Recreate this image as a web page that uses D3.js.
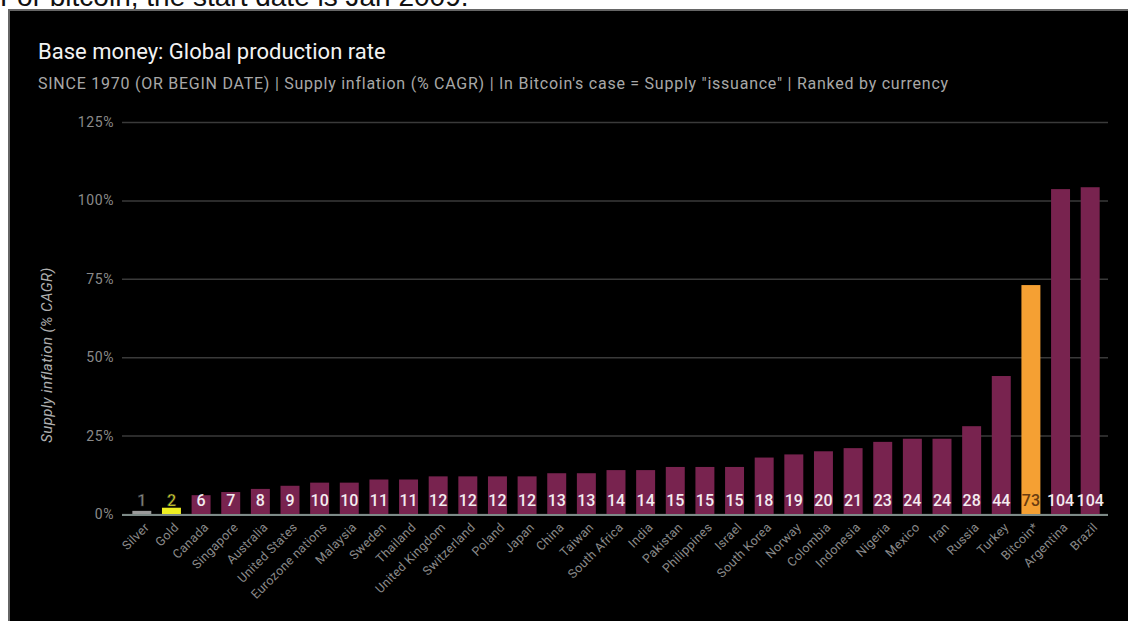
<!DOCTYPE html>
<html><head><meta charset="utf-8">
<script src="https://cdn.jsdelivr.net/npm/d3@7"></script>
<style>html,body{margin:0;padding:0;background:#fff;}svg{display:block;}</style>
</head><body>
<svg id="c" width="1128" height="621"></svg>
<script>
const categories = ["Silver","Gold","Canada","Singapore","Australia","United States","Eurozone nations","Malaysia","Sweden","Thailand","United Kingdom","Switzerland","Poland","Japan","China","Taiwan","South Africa","India","Pakistan","Philippines","Israel","South Korea","Norway","Colombia","Indonesia","Nigeria","Mexico","Iran","Russia","Turkey","Bitcoin*","Argentina","Brazil"];
const values = [1,2,6,7,8,9,10,10,11,11,12,12,12,12,13,13,14,14,15,15,15,18,19,20,21,23,24,24,28,44,73,103.6,104.2];
const yTicks = [0,25,50,75,100,125];
const specialFill = {"Silver":"#9a9a9a","Gold":"#eeee22","Bitcoin*":"#f5a033"};
const labelFill = {"Silver":"#8a8a8a","Gold":"#e8e820","Bitcoin*":"#6a3c10"};

const svg = d3.select("#c");
// caption strip text (cut off)
svg.append("text").attr("x",0).attr("y",6).attr("font-family","Liberation Sans, Arial, sans-serif")
  .attr("font-size",28).attr("fill","#111").text("For bitcoin, the start date is Jan 2009.");
svg.append("rect").attr("x",9).attr("y",10).attr("width",1125).attr("height",620)
  .attr("fill","#000").attr("stroke","#666").attr("stroke-width",2);

svg.append("text").attr("x",38).attr("y",59).attr("font-family","Roboto, sans-serif")
  .attr("font-size",22).attr("fill","#f2f2f2").text("Base money: Global production rate");
svg.append("text").attr("x",38).attr("y",89).attr("font-family","Roboto, sans-serif")
  .attr("font-size",16).attr("fill","#a8a8a8").attr("letter-spacing","0.75")
  .text("SINCE 1970 (OR BEGIN DATE) | Supply inflation (% CAGR) | In Bitcoin's case = Supply \"issuance\" | Ranked by currency");

const x = d3.scaleBand().domain(categories).range([127,1105]).paddingInner(0.36).paddingOuter(0.18);
const y = d3.scaleLinear().domain([0,125]).range([514,122]);

// grid
const yAxis = d3.axisLeft(y).tickValues(yTicks).tickFormat(d=>d+"%").tickSize(-(1108-122)).tickPadding(8);
const gy = svg.append("g").attr("transform","translate(122,0)").call(yAxis);
gy.select(".domain").remove();
gy.selectAll(".tick line").attr("stroke","#3a3a3a").attr("stroke-width",1.5);
gy.selectAll(".tick text").attr("fill","#8a8a8a").attr("font-family","Roboto, sans-serif").attr("font-size",14).attr("letter-spacing","0.6");

svg.append("text").attr("transform","translate(52,355) rotate(-90)").attr("text-anchor","middle")
  .attr("font-family","Roboto, sans-serif").attr("font-style","italic").attr("font-size",15)
  .attr("letter-spacing","0.4").attr("fill","#b0b0b0").text("Supply inflation (% CAGR)");

// bars
svg.append("g").selectAll("rect").data(categories).join("rect")
  .attr("x",d=>x(d)).attr("width",x.bandwidth())
  .attr("y",(d,i)=>y(values[i])).attr("height",(d,i)=>y(0)-y(values[i]))
  .attr("fill",d=>specialFill[d]||"#78234f");

// baseline
svg.append("line").attr("x1",122).attr("x2",1108).attr("y1",y(0)+1).attr("y2",y(0)+1)
  .attr("stroke","#7d8a87").attr("stroke-width",2);

// value labels
svg.append("g").selectAll("text").data(categories).join("text")
  .attr("x",d=>x(d)+x.bandwidth()/2).attr("y",506).attr("text-anchor","middle")
  .attr("font-family","Roboto, sans-serif").attr("font-weight",500).attr("font-size",16)
  .attr("fill",d=>labelFill[d]||"#f4ecf0")
  .attr("stroke",d=>(d==="Silver"||d==="Gold")?"#333":"none").attr("stroke-width",0.6)
  .text((d,i)=>Math.round(values[i]));

// x labels
const xAxis = d3.axisBottom(x).tickSize(0).tickPadding(0);
const gx = svg.append("g").attr("transform","translate(0,"+(y(0)+6)+")").call(xAxis);
gx.select(".domain").remove();
gx.selectAll(".tick text").attr("fill","#8a8a8a").attr("font-family","Roboto, sans-serif").attr("font-size",12.5)
  .attr("letter-spacing","0.3")
  .attr("text-anchor","end").attr("dy","0.35em").attr("transform","translate(5,5) rotate(-45)");
</script>
</body></html>
